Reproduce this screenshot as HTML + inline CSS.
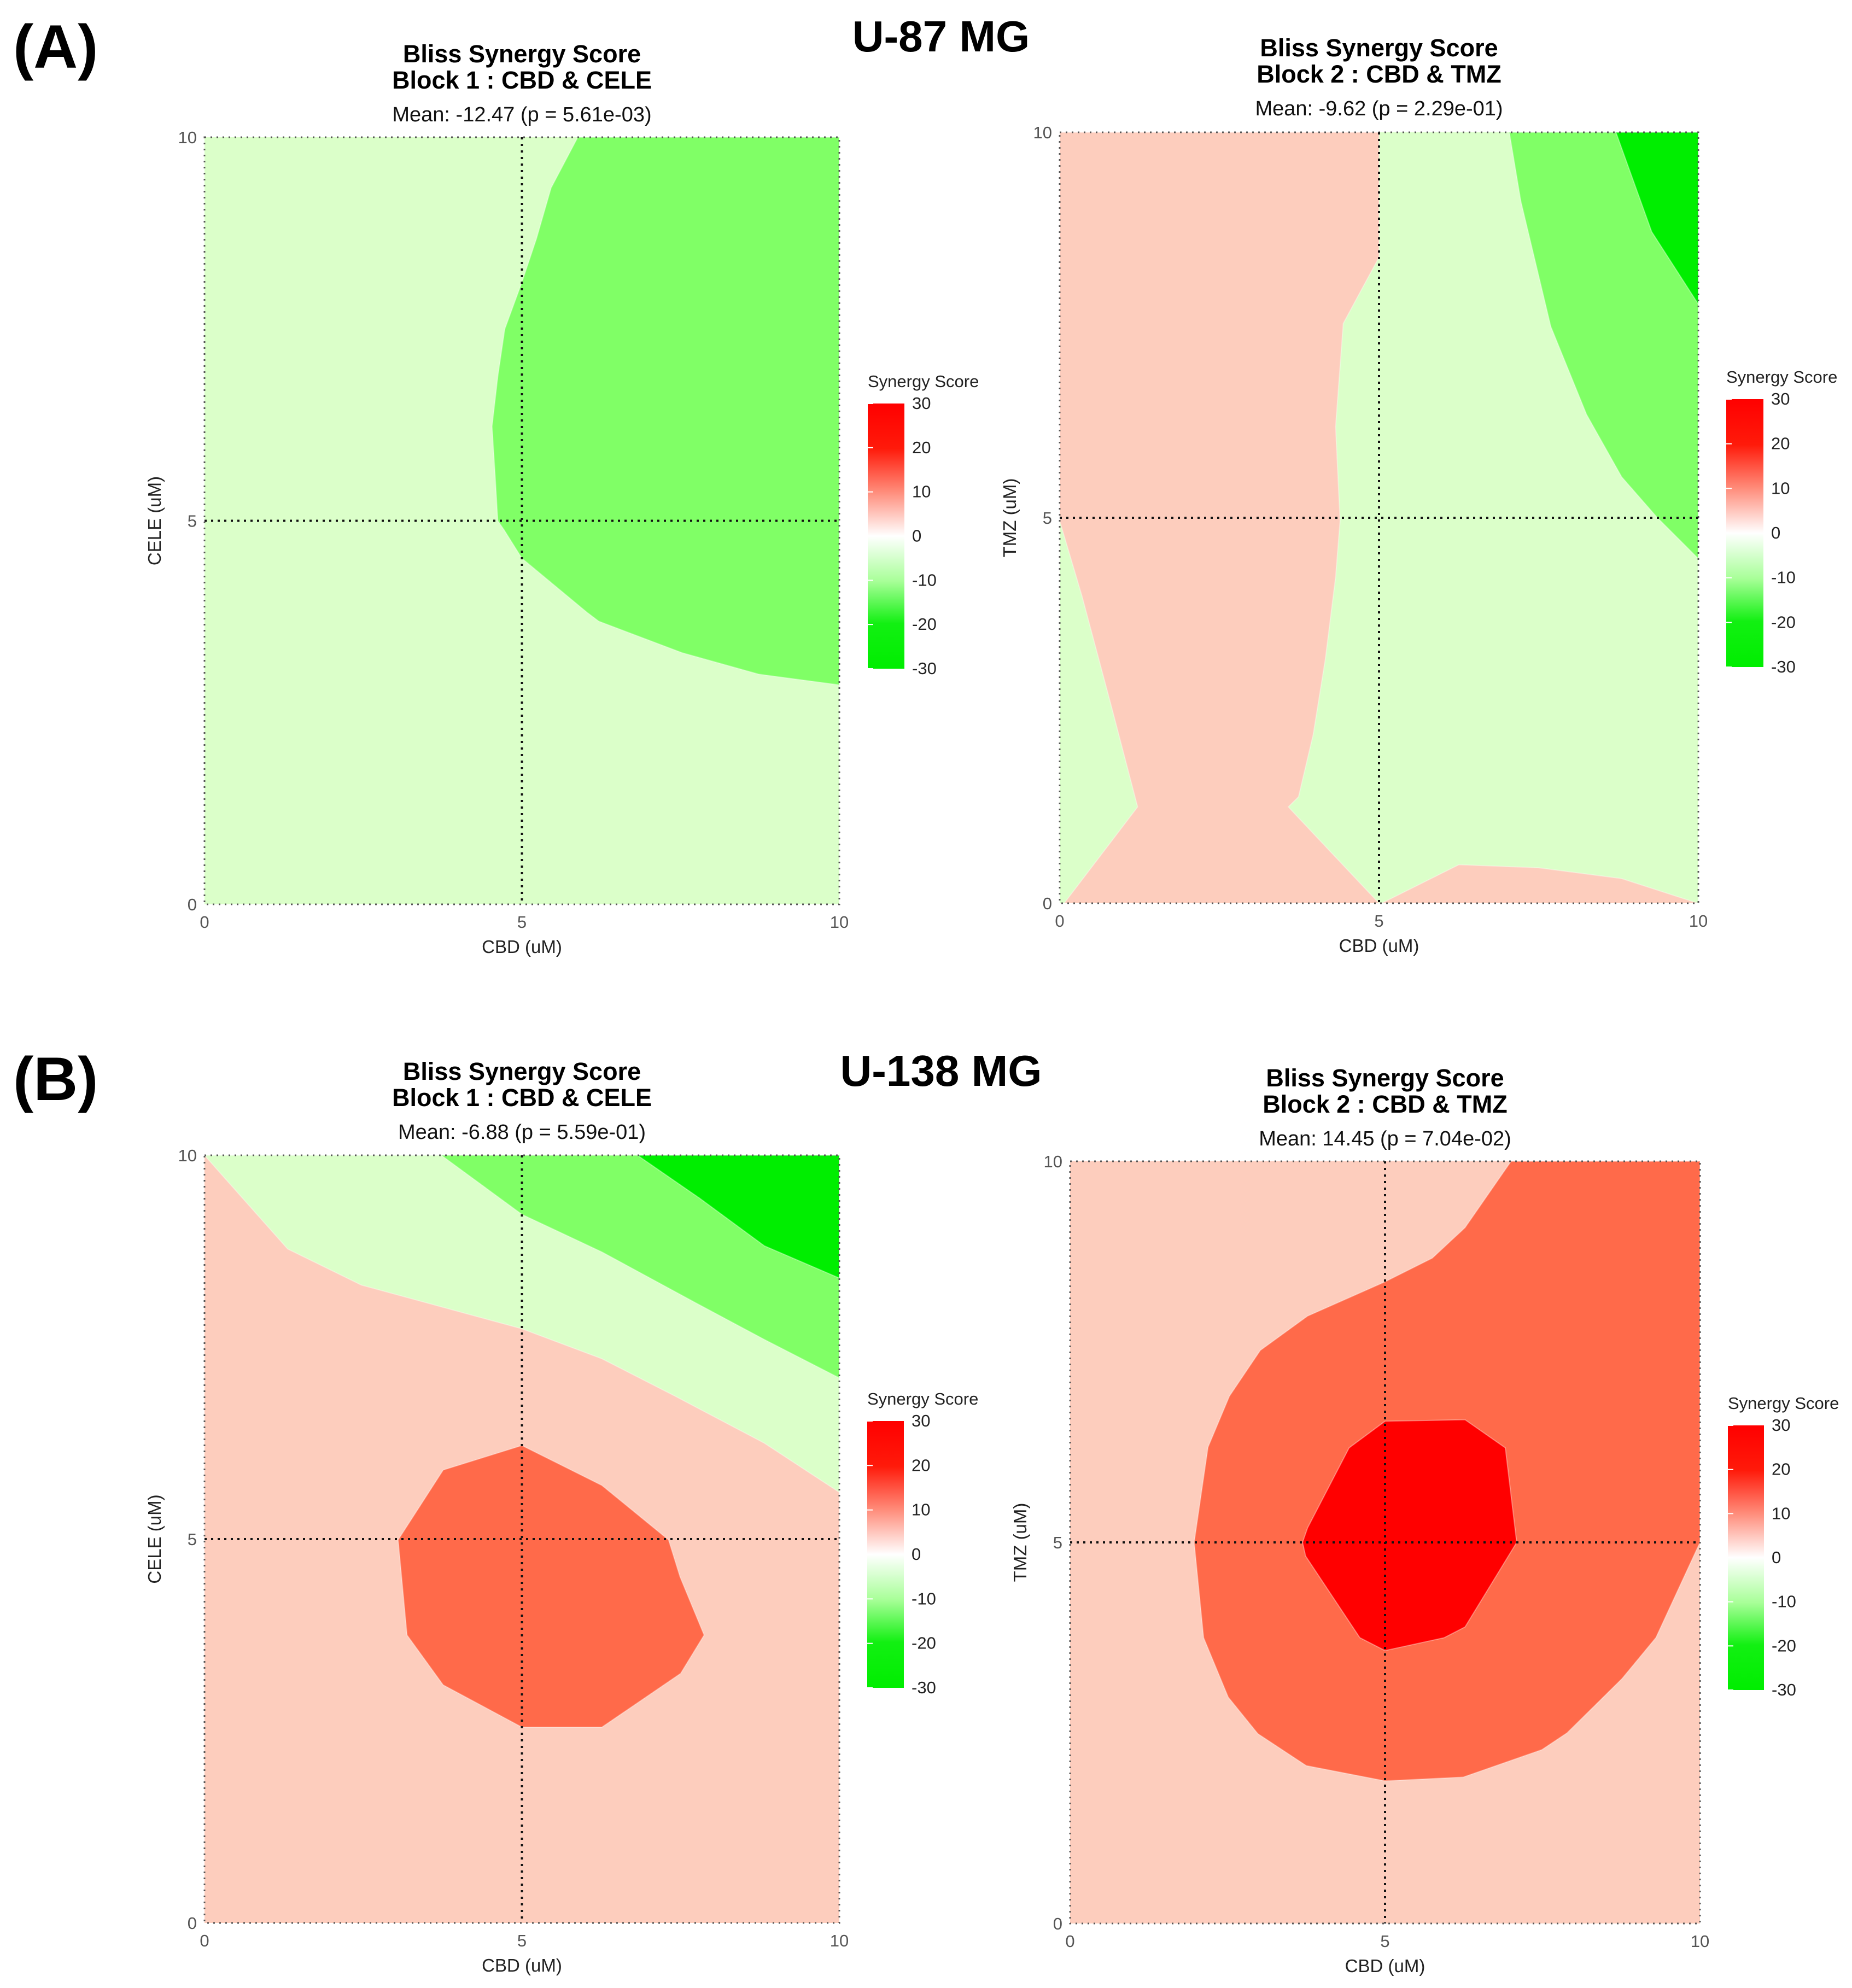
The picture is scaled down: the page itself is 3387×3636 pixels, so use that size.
<!DOCTYPE html>
<html><head><meta charset="utf-8">
<style>
html,body{margin:0;padding:0;background:#fff;}
svg{display:block;font-family:"Liberation Sans",Arial,sans-serif;}
</style></head>
<body>
<svg id="fig" width="3387" height="3636" viewBox="0 0 3387 3636" xmlns="http://www.w3.org/2000/svg">
<defs>
<linearGradient id="cbar" x1="0" y1="0" x2="0" y2="1">
<stop offset="0" stop-color="#ff0000"/>
<stop offset="0.17" stop-color="#ff1a0a"/>
<stop offset="0.33" stop-color="#ff8a78"/>
<stop offset="0.5" stop-color="#ffffff"/>
<stop offset="0.67" stop-color="#a8ff98"/>
<stop offset="0.83" stop-color="#12f012"/>
<stop offset="1" stop-color="#00ee00"/>
</linearGradient>
</defs>
<text x="24" y="124" font-size="112" font-weight="bold">(A)</text>
<text x="1721" y="94" font-size="80" font-weight="bold" text-anchor="middle">U-87 MG</text>
<text x="24" y="2012" font-size="112" font-weight="bold">(B)</text>
<text x="1721" y="1986" font-size="80" font-weight="bold" text-anchor="middle">U-138 MG</text>
</svg>
<script>
// Colors
const cLight = "#dbffc9", cMid = "#80ff66", cBright = "#00ee00", cSalmon = "#fdcdbd", cOrange = "#ff6a4a", cRed = "#ff0000";
// Axis ticks
const xTicks = [0, 5, 10];
const yTicks = [0, 5, 10];
const cbarTicks = [30, 20, 10, 0, -10, -20, -30];

// Panel A1 (U-87, CBD & CELE) contour boundaries [CBD, CELE]
const a1Mid = [[5.88,10],[5.46,9.34],[5.23,8.68],[5.0,8.11],[4.73,7.5],[4.62,6.88],[4.53,6.23],[4.58,5.57],[4.62,5.0],[4.72,4.88],[5.0,4.51],[6.02,3.81],[6.21,3.69],[7.52,3.28],[8.73,3.0],[10,2.86],[10,10]];
// Panel A2 (U-87, CBD & TMZ)
const a2Salmon = [[0,10],[5,10],[5,8.38],[4.44,7.52],[4.32,6.18],[4.39,4.96],[4.32,4.23],[4.16,3.17],[3.97,2.19],[3.74,1.38],[3.58,1.25],[5.0,0],[0.07,0],[1.22,1.25],[0.82,2.52],[0.35,3.98],[0,4.96]];
const a2SalmonBottom = [[5.04,0],[6.25,0.5],[7.5,0.46],[8.8,0.32],[9.92,0.02],[10,0]];
const a2Mid = [[7.04,10],[7.22,9.11],[7.69,7.48],[8.25,6.34],[8.8,5.53],[9.36,5.0],[10,4.47],[10,10]];
const a2Bright = [[8.71,10],[9.27,8.71],[10,7.77],[10,10]];
// Panel B1 (U-138, CBD & CELE)
const b1Light = [[0,10],[1.31,8.78],[2.47,8.31],[5.0,7.74],[6.26,7.35],[7.42,6.86],[8.82,6.25],[10,5.61],[10,10]];
const b1Mid = [[3.73,10],[5.0,9.23],[6.26,8.74],[7.8,8.05],[8.82,7.6],[10,7.1],[10,10]];
const b1Bright = [[6.82,10],[7.8,9.44],[8.82,8.82],[10,8.4],[10,10]];
const b1Orange = [[5.0,6.22],[6.26,5.7],[7.31,4.99],[7.49,4.51],[7.87,3.75],[7.5,3.25],[6.26,2.55],[5.0,2.55],[3.76,3.1],[3.19,3.75],[3.05,4.99],[3.76,5.9]];
// Panel B2 (U-138, CBD & TMZ)
const b2Orange = [[7.0,10],[6.27,9.13],[5.75,8.73],[5.0,8.42],[3.77,7.97],[3.02,7.52],[2.53,6.92],[2.19,6.25],[1.97,5.0],[2.12,3.75],[2.51,2.97],[2.98,2.49],[3.75,2.07],[5.0,1.87],[6.24,1.92],[7.49,2.28],[7.89,2.5],[8.76,3.21],[9.3,3.75],[10,5.0],[10,10]];
const b2Red = [[5.0,6.59],[6.27,6.61],[6.91,6.24],[7.09,5.0],[6.27,3.89],[5.94,3.75],[5.0,3.58],[4.6,3.75],[3.74,4.82],[3.69,5.0],[3.77,5.19],[4.43,6.24]];

const NS = "http://www.w3.org/2000/svg";
const svg = document.getElementById("fig");
function mk(tag, attrs, parent){
  const e = document.createElementNS(NS, tag);
  for (const k in attrs) e.setAttribute(k, attrs[k]);
  (parent||svg).appendChild(e);
  return e;
}
function txt(parent, x, y, s, size, opts){
  const t = mk("text", Object.assign({x:x, y:y, "font-size":size}, opts||{}), parent);
  t.textContent = s;
  return t;
}

function panel(cfg){
  const g = mk("g", {});
  
  
  const X = v => cfg.l + (cfg.r - cfg.l) * v / 10;
  const Y = v => cfg.b - (cfg.b - cfg.t) * v / 10;
  const bg = mk("rect", {x:cfg.l, y:cfg.t, width:cfg.r-cfg.l, height:cfg.b-cfg.t, fill:cfg.bg}, g);
  
  
  cfg.layers.forEach(function(L){
    const p = mk("polygon", {points: L.pts.map(q => X(q[0]).toFixed(1)+","+Y(q[1]).toFixed(1)).join(" "), fill:L.fill, stroke:"#ffffff", "stroke-opacity":"0.35", "stroke-width":"2"}, g);
    
    
  });
  const bd = mk("rect", {x:cfg.l, y:cfg.t, width:cfg.r-cfg.l, height:cfg.b-cfg.t, fill:"none", stroke:"#555", "stroke-width":"3", "stroke-dasharray":"3 8"}, g);
  
  
  const vl = mk("line", {x1:X(5), x2:X(5), y1:cfg.t, y2:cfg.b, stroke:"#111", "stroke-width":"4", "stroke-dasharray":"4 8"}, g);
  
  
  const hl = mk("line", {x1:cfg.l, x2:cfg.r, y1:Y(5), y2:Y(5), stroke:"#111", "stroke-width":"4", "stroke-dasharray":"4 8"}, g);
  
  
  xTicks.forEach(function(v){
    const t = txt(g, X(v), cfg.b + 43, String(v), 31, {"text-anchor":"middle", fill:"#555"});
    
    
  });
  yTicks.forEach(function(v){
    const t = txt(g, cfg.l - 14, Y(v) + 11, String(v), 31, {"text-anchor":"end", fill:"#555"});
    
    
  });
  const xt = txt(g, (cfg.l+cfg.r)/2, cfg.b + 89, "CBD (uM)", 33, {"text-anchor":"middle", fill:"#222"});
  
  
  const yc = (cfg.t+cfg.b)/2, yx = cfg.l - 80;
  const yt = txt(g, yx, yc, cfg.ylab, 33, {"text-anchor":"middle", fill:"#222", transform:"rotate(-90 "+yx+" "+yc+")"});
  
  
  const cx = (cfg.l+cfg.r)/2;
  const t1 = txt(g, cx, cfg.ty + 16, "Bliss Synergy Score", 45, {"text-anchor":"middle", "font-weight":"bold"});
  
  
  const t2 = txt(g, cx, cfg.ty + 64, cfg.block, 45, {"text-anchor":"middle", "font-weight":"bold"});
  
  
  const t3 = txt(g, cx, cfg.ty + 124, cfg.mean, 38, {"text-anchor":"middle", fill:"#111"});
  
  
  const cb = mk("rect", {x:cfg.cbx, y:cfg.cby, width:cfg.cbw, height:cfg.cbh, fill:"url(#cbar)"}, g);
  
  
  const ct = txt(g, cfg.cbx, cfg.cby - 30, "Synergy Score", 31, {fill:"#222"});
  
  
  cbarTicks.forEach(function(v){
    const yy = cfg.cby + cfg.cbh * (30 - v) / 60;
    const tl = txt(g, cfg.cbx + cfg.cbw + 14, yy + 10, String(v), 31, {fill:"#222"});
    
    
    const tm = mk("line", {x1:cfg.cbx, x2:cfg.cbx+10, y1:yy, y2:yy, stroke:"#fff", "stroke-width":"2"}, g);
    
    
  });
}

panel({name:"panel-a1-cbd-cele", l:374, r:1535, t:251, b:1654, ty:98, ylab:"CELE (uM)", block:"Block 1 : CBD & CELE", mean:"Mean: -12.47 (p = 5.61e-03)", bg:cLight,
  layers:[{name:"contour-mid-green", pts:a1Mid, fill:cMid}], cbx:1587, cby:738, cbw:67, cbh:485});
panel({name:"panel-a2-cbd-tmz", l:1938, r:3106, t:242, b:1652, ty:87, ylab:"TMZ (uM)", block:"Block 2 : CBD & TMZ", mean:"Mean: -9.62 (p = 2.29e-01)", bg:cLight,
  layers:[{name:"contour-salmon", pts:a2Salmon, fill:cSalmon},{name:"contour-salmon-bottom", pts:a2SalmonBottom, fill:cSalmon},{name:"contour-mid-green", pts:a2Mid, fill:cMid},{name:"contour-bright-green", pts:a2Bright, fill:cBright}], cbx:3157, cby:730, cbw:68, cbh:490});
panel({name:"panel-b1-cbd-cele", l:374, r:1535, t:2113, b:3517, ty:1959, ylab:"CELE (uM)", block:"Block 1 : CBD & CELE", mean:"Mean: -6.88 (p = 5.59e-01)", bg:cSalmon,
  layers:[{name:"contour-light-green", pts:b1Light, fill:cLight},{name:"contour-mid-green", pts:b1Mid, fill:cMid},{name:"contour-bright-green", pts:b1Bright, fill:cBright},{name:"contour-orange", pts:b1Orange, fill:cOrange}], cbx:1586, cby:2599, cbw:67, cbh:488});
panel({name:"panel-b2-cbd-tmz", l:1957, r:3109, t:2124, b:3518, ty:1971, ylab:"TMZ (uM)", block:"Block 2 : CBD & TMZ", mean:"Mean: 14.45 (p = 7.04e-02)", bg:cSalmon,
  layers:[{name:"contour-orange", pts:b2Orange, fill:cOrange},{name:"contour-red", pts:b2Red, fill:cRed}], cbx:3160, cby:2607, cbw:66, cbh:484});
</script>
</body></html>
